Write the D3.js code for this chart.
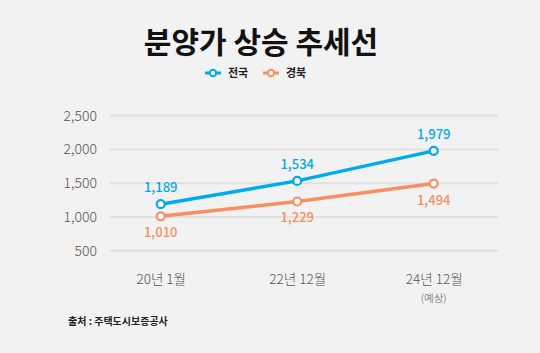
<!DOCTYPE html>
<html><head><meta charset="utf-8">
<script src="https://cdn.jsdelivr.net/npm/d3@7"></script>
<style>body{margin:0;background:#f2f2f2;} svg{display:block;font-family:"Noto Sans CJK KR","Noto Sans",sans-serif;}</style>
</head><body><svg id="c" width="540" height="353"></svg>
<script>
const categories = ["20년 1월", "22년 12월", "24년 12월"];
const subLabels = ["", "", "(예상)"];
const seriesNames = ["전국", "경북"];
const nationalValues = [1189, 1534, 1979];
const gyeongbukValues = [1010, 1229, 1494];
const yTicks = [500, 1000, 1500, 2000, 2500];
const colors = ["#00aaee", "#f78f62"];

const svg = d3.select("#c");
svg.append("rect").attr("width",540).attr("height",353).attr("fill","#f2f2f2");

const x = d3.scalePoint().domain(categories).range([160.7, 433.7]);
const y = d3.scaleLinear().domain([500, 2500]).range([250.7, 115.7]);

// gridlines
svg.append("g").selectAll("line").data(yTicks).join("line")
  .attr("x1",110).attr("x2",498).attr("y1",d=>y(d)).attr("y2",d=>y(d))
  .attr("stroke","#e0e0e0").attr("stroke-width",2);

// y axis labels
const yAxis = d3.axisLeft(y).tickValues(yTicks).tickFormat(d3.format(",")).tickSize(0).tickPadding(0);
const ga = svg.append("g").attr("transform","translate(97,0)").call(yAxis);
ga.select(".domain").remove();
ga.selectAll("text").attr("font-size",14).attr("fill","#555").attr("font-family","'Noto Sans CJK KR',sans-serif").attr("font-weight",300);

// x axis labels
const xAxis = d3.axisBottom(x).tickSize(0).tickPadding(0);
const gx = svg.append("g").attr("transform","translate(0,274)").call(xAxis);
gx.select(".domain").remove();
gx.selectAll("text").attr("font-size",13.5).attr("fill","#555").attr("font-weight",300).attr("font-family","'Noto Sans CJK KR',sans-serif");
svg.append("g").selectAll("text").data(categories.filter((c,i)=>subLabels[i])).join("text")
  .attr("x",d=>x(d)).attr("y",302).attr("text-anchor","middle")
  .attr("font-size",10.5).attr("fill","#555").attr("font-weight",300)
  .text(d=>subLabels[categories.indexOf(d)]);

const series = [nationalValues, gyeongbukValues];
const line = d3.line().x((d,i)=>x(categories[i])).y(d=>y(d));
series.forEach((vals, si) => {
  svg.append("path").datum(vals).attr("d", line).attr("fill","none")
    .attr("stroke",colors[si]).attr("stroke-width",3.5);
  svg.append("g").selectAll("circle").data(vals).join("circle")
    .attr("cx",(d,i)=>x(categories[i])).attr("cy",d=>y(d)).attr("r",4)
    .attr("fill","#fff").attr("stroke",colors[si]).attr("stroke-width",2.2);
  svg.append("g").selectAll("text").data(vals).join("text")
    .attr("x",(d,i)=>x(categories[i])).attr("y",d=> si===0 ? y(d)-12 : y(d)+21)
    .attr("text-anchor","middle").attr("font-size",13).attr("font-weight",500)
    .attr("fill",colors[si]).attr("font-family","'Noto Sans CJK KR',sans-serif")
    .text(d3.format(","));
});

// title
svg.append("text").attr("x",261).attr("y",53).attr("text-anchor","middle")
  .attr("font-size",30).attr("font-weight",700).attr("fill","#111").text("분양가 상승 추세선");

// legend
const legX = [205, 263];
seriesNames.forEach((n,i)=>{
  const g = svg.append("g").attr("transform",`translate(${legX[i]},73)`);
  g.append("line").attr("x1",0).attr("x2",16).attr("stroke",colors[i]).attr("stroke-width",3);
  g.append("circle").attr("cx",8).attr("r",3.2).attr("fill","#fff").attr("stroke",colors[i]).attr("stroke-width",2);
  g.append("text").attr("x",23).attr("y",4).attr("font-size",11).attr("font-weight",700).attr("fill","#222").text(n);
});

// source
svg.append("text").attr("x",68).attr("y",324.5).attr("font-size",10).attr("font-weight",700).attr("fill","#222").text("출처 : 주택도시보증공사");
</script></body></html>
